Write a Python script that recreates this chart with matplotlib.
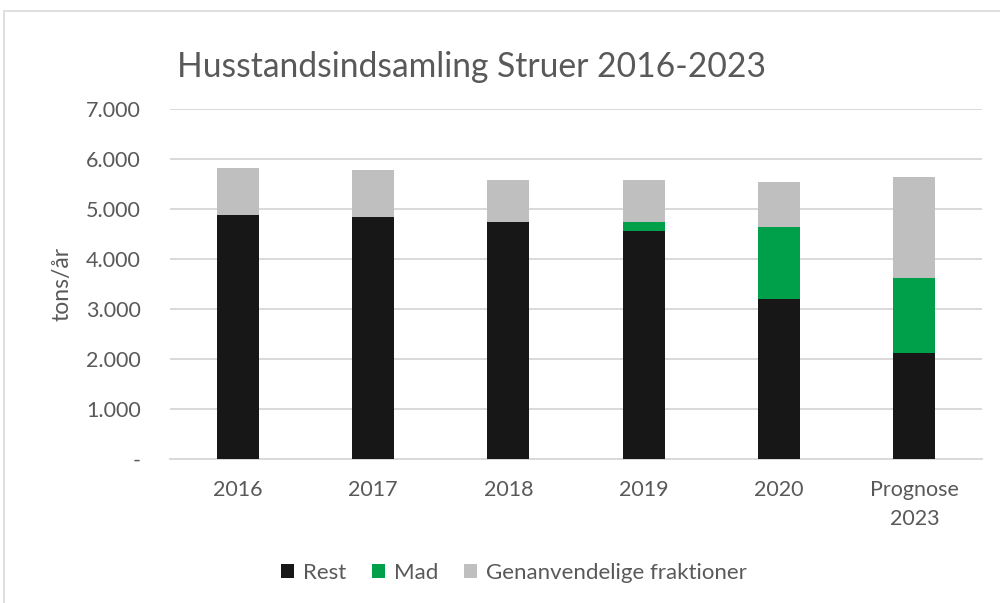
import numpy as np
import matplotlib
matplotlib.use('Agg')
import matplotlib.pyplot as plt
from matplotlib.patches import Rectangle
from matplotlib.ticker import FuncFormatter

plt.rcParams['font.family'] = ['Lato', 'DejaVu Sans']

categories = ['2016', '2017', '2018', '2019', '2020', 'Prognose\n2023']
rest = [4890, 4840, 4735, 4555, 3200, 2115]
mad = [0, 0, 0, 180, 1435, 1515]
genanv = [935, 940, 850, 850, 910, 2020]

col_rest = '#171717'
col_mad = '#00a04a'
col_gen = '#bfbfbf'
txt = '#595959'
grid = '#d9d9d9'

fig = plt.figure(figsize=(10, 6.03), dpi=100)
ax = fig.add_axes([0.170, 0.2388, 0.812, 0.5804])

x = np.arange(len(categories))
w = 0.31
rest = np.array(rest)
mad = np.array(mad)
genanv = np.array(genanv)
ax.bar(x, rest, w, color=col_rest, label='Rest', zorder=3)
ax.bar(x, mad, w, bottom=rest, color=col_mad, label='Mad', zorder=3)
ax.bar(x, genanv, w, bottom=rest + mad, color=col_gen,
       label='Genanvendelige fraktioner', zorder=3)

ax.set_xlim(-0.5, len(categories) - 0.5)
ax.set_ylim(0, 7000)
ax.set_yticks(np.arange(0, 7001, 1000))
ax.yaxis.set_major_formatter(FuncFormatter(
    lambda v, p: '-' if v == 0 else '{:,.0f}'.format(v).replace(',', '.')))
ax.set_xticks(x)
ax.set_xticklabels(categories)
ax.grid(axis='y', color=grid, linewidth=1.4, zorder=0)
for s in ['top', 'right', 'left']:
    ax.spines[s].set_visible(False)
ax.spines['bottom'].set_color(grid)
ax.spines['bottom'].set_linewidth(1.4)
ax.tick_params(axis='both', length=0, labelsize=15.5, colors=txt)
ax.tick_params(axis='y', pad=21)
ax.tick_params(axis='x', pad=15)
for lab in ax.get_xticklabels():
    lab.set_linespacing(1.55)

ax.set_ylabel('tons/år', fontsize=16.5, color=txt, labelpad=10)

fig.text(0.177, 0.889, 'Husstandsindsamling Struer 2016-2023', fontsize=24.2,
         color=txt, ha='left', va='center')

leg = fig.legend(loc='center', bbox_to_anchor=(0.514, 0.050), ncol=3,
                 frameon=False, fontsize=16, handlelength=0.6,
                 handleheight=0.6, handletextpad=0.4, columnspacing=1.15)
for t in leg.get_texts():
    t.set_color(txt)

fig.patches.append(Rectangle((0.004, -0.1), 1.2, 1.1 - 11 / 603,
                             transform=fig.transFigure, fill=False,
                             edgecolor=grid, linewidth=1.2))

fig.savefig('out.png', dpi=100)
